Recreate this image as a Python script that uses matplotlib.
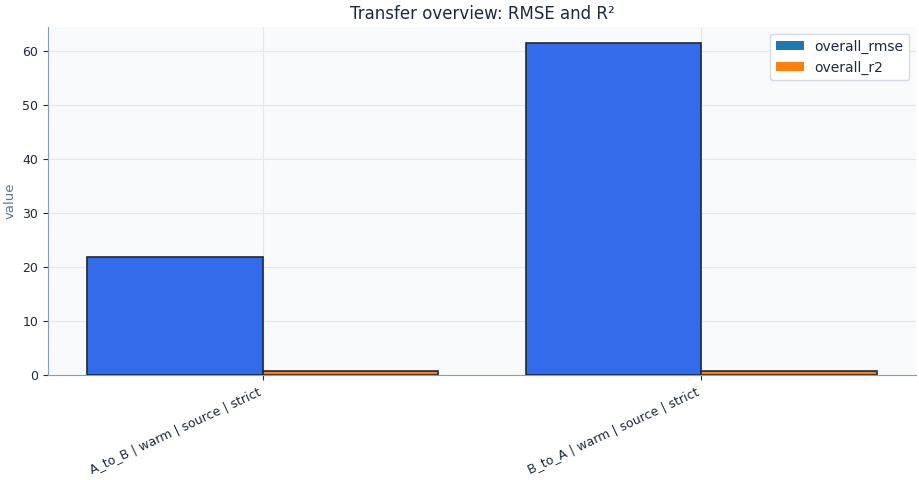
import numpy as np
import pandas as pd
import matplotlib
matplotlib.use("Agg")
import matplotlib.pyplot as plt
from matplotlib.patches import Patch

# values
labels = ["A_to_B | warm | source | strict", "B_to_A | warm | source | strict"]
overall_rmse = [21.8, 61.35]
overall_r2 = [0.75, 0.76]

df = pd.DataFrame({"overall_rmse": overall_rmse, "overall_r2": overall_r2}, index=labels)

text_col = "#1e293b"
spine_col = "#8a9bbb"
grid_col = "#e2e8f0"

fig, ax = plt.subplots(figsize=(9.19, 4.8), dpi=100)
df.plot(kind="bar", ax=ax, width=0.8, edgecolor=text_col, linewidth=1.2, zorder=3, legend=False)

# legend keeps the default cycle colours, rmse bars are recoloured
handles = [Patch(facecolor="C0", label="overall_rmse"),
           Patch(facecolor="C1", label="overall_r2")]
ax.legend(handles=handles, loc="upper right", facecolor="white", edgecolor="#d5dce6",
          framealpha=1, labelcolor=text_col, fontsize=10)
for p in ax.containers[0]:
    p.set_facecolor("#336ceb")

ax.set_xlim(-0.49, 1.49)
ax.set_facecolor("#f8fafc")
ax.grid(True, color=grid_col, linewidth=0.8, zorder=0)
ax.set_axisbelow(True)
for s in ["top", "right"]:
    ax.spines[s].set_visible(False)
for s in ["left", "bottom"]:
    ax.spines[s].set_color(spine_col)

ax.set_title("Transfer overview: RMSE and R²", color=text_col, fontsize=12)
ax.set_ylabel("value", color="#64748b", fontsize=9.5)
ax.set_xlabel("")
ax.tick_params(colors=text_col, labelsize=9)
plt.setp(ax.get_xticklabels(), rotation=25, ha="right")

fig.subplots_adjust(left=0.052, right=0.997, top=0.944, bottom=0.219)
fig.savefig("out.png", dpi=100)
